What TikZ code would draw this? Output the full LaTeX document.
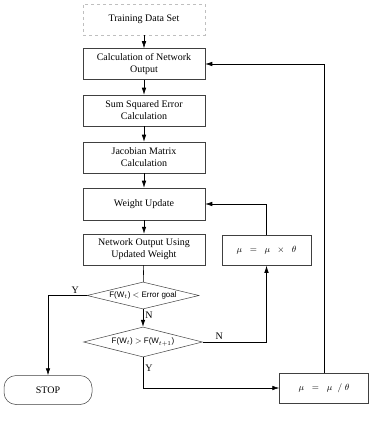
\documentclass[tikz,border=0pt]{standalone}
\usepackage{amsmath}
\usepackage{fontspec}
\setmainfont{Liberation Serif}
\newfontfamily\diafont{Liberation Sans}
\usetikzlibrary{shapes.geometric,arrows.meta}

\begin{document}
\begin{tikzpicture}[x=1pt,y=-1pt,
    procbox/.style={draw=black!75,line width=0.5pt,minimum width=122pt,minimum height=31pt,
      inner sep=1pt,align=center,font=\fontsize{10}{12}\selectfont},
    mubox/.style={draw=black!75,line width=0.5pt,minimum width=89pt,minimum height=30pt,
      inner sep=1pt,font=\fontsize{9}{11}\selectfont},
    decision/.style={diamond,draw=black!75,line width=0.5pt,aspect=4,inner sep=0pt,
      font=\diafont\fontsize{8}{9}\selectfont},
    flow/.style={line width=0.6pt,-{Latex[length=7pt,width=4.5pt]}},
    lbl/.style={font=\fontsize{10}{12}\selectfont,inner sep=2pt}]
    \useasboundingbox (0,0) rectangle (370,435);
    % main column
    \node [procbox,draw=black!25,dashed] (train) at (144,19.5) {Training Data Set};
    \node [procbox] (calc) at (144,64) {Calculation of Network\\Output};
    \node [procbox] (sse) at (144,110.5) {Sum Squared Error\\Calculation};
    \node [procbox] (jac) at (144,157.5) {Jacobian Matrix\\Calculation};
    \node [procbox,minimum height=32pt] (wu) at (144,204) {Weight Update};
    \node [procbox] (nout) at (144,249.5) {Network Output Using\\Updated Weight};
    \node [decision,minimum width=112pt,minimum height=27pt] (d1) at (143,295.5) {F(W$_t$) $<$ Error goal};
    \node [decision,minimum width=119pt,minimum height=30pt] (d2) at (143,342) {F(W$_t$) $>$ F(W$_{t+1}$)};
    % side boxes
    \node [mubox] (mul) at (266.5,250.5) {$\mu\;\;=\;\;\mu\;\;\times\;\;\theta$};
    \node [mubox] (div) at (324,388) {$\mu\;\;=\;\;\mu\;\;/\;\theta$};
    \node [draw=black!75,line width=0.5pt,rounded corners=12pt,minimum width=88pt,minimum height=29pt,
      font=\fontsize{10}{12}\selectfont] (stop) at (48,390) {STOP};
    % connectors
    \draw [flow] (train) -- (calc);
    \draw [flow] (calc) -- (sse);
    \draw [flow] (sse) -- (jac);
    \draw [flow] (jac) -- (wu);
    \draw [flow] (wu) -- (nout);
    \draw [line width=0.6pt] (nout) -- (d1);
    \draw [flow] (d1) -- node [lbl,right,pos=0.35] {N} (d2);
    \draw [flow] (d1.west) -| node [lbl,above,pos=0.15] {Y} (stop.north);
    \draw [flow] (d2.east) -| node [lbl,above,pos=0.13] {N} (mul.south);
    \draw [flow] (d2.south) |- node [lbl,right,pos=0.18] {Y} (div.west);
    \draw [flow] (mul.north) |- (wu.east);
    \draw [flow] (div.north) |- (calc.east);
  \end{tikzpicture}
\end{document}
